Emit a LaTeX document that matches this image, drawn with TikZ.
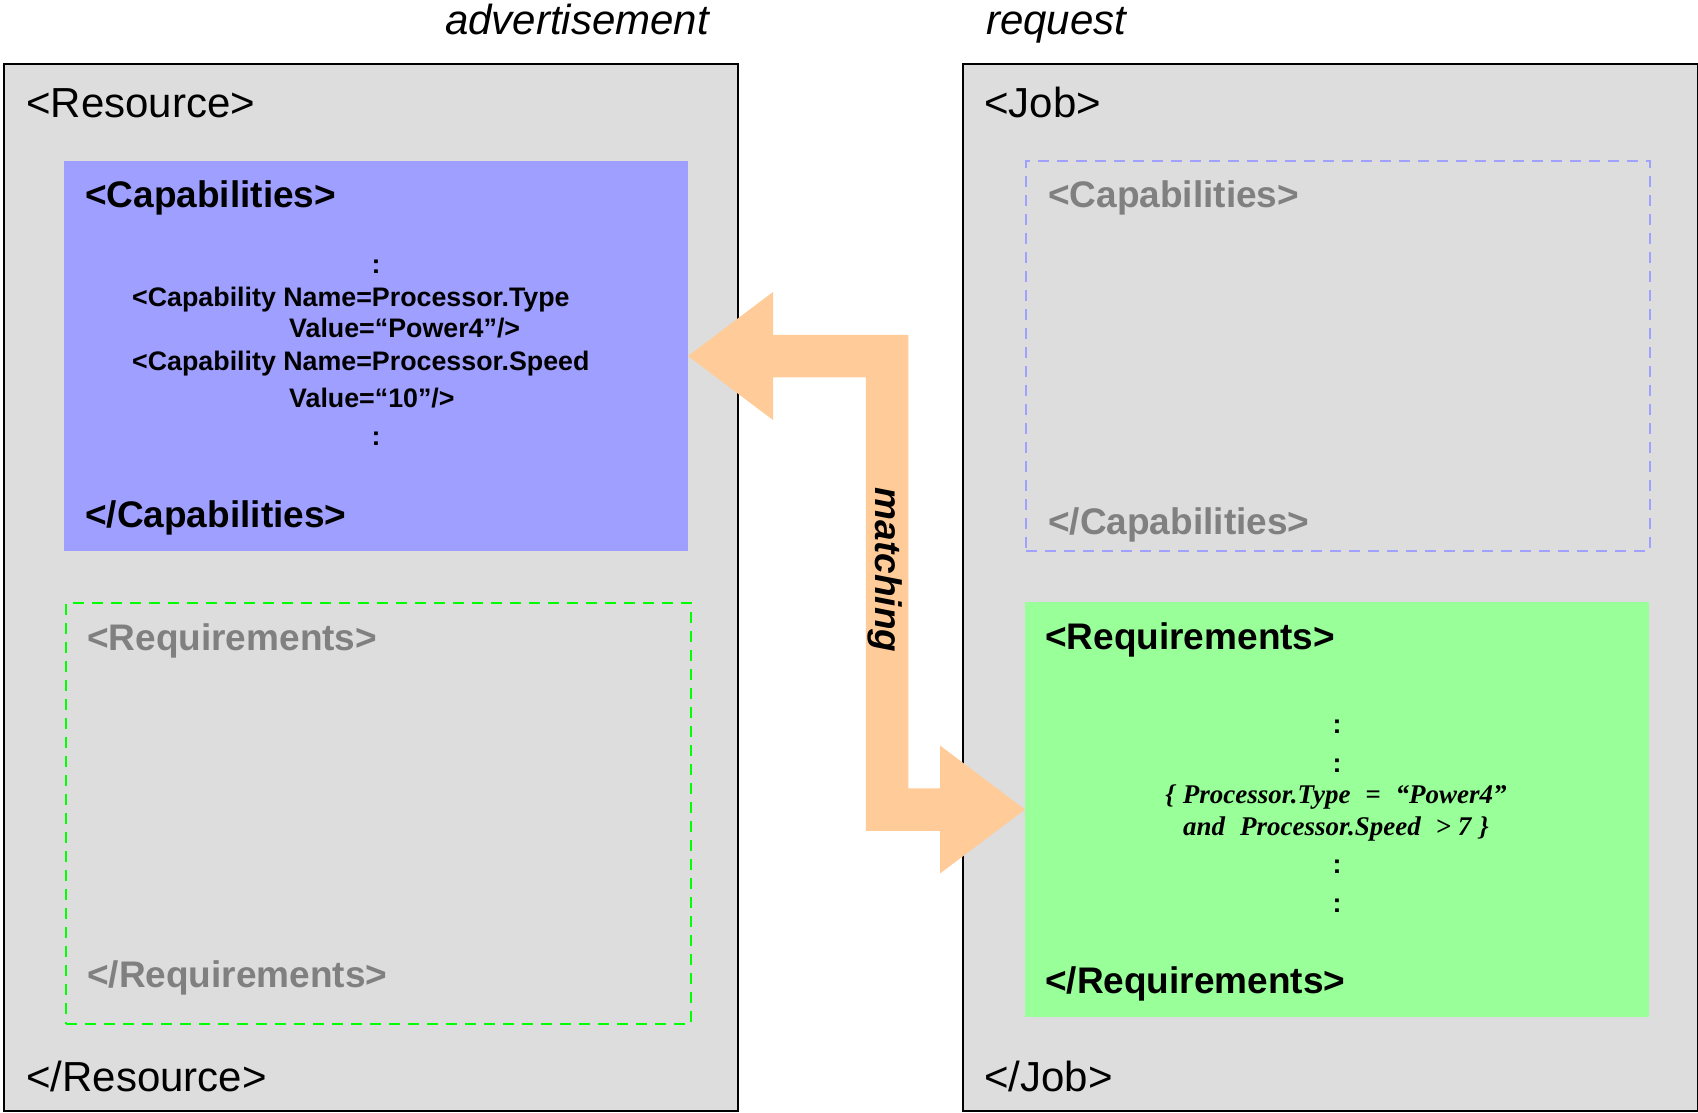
\documentclass[tikz,border=0pt]{standalone}
\usepackage{fontspec}
\setmainfont{Liberation Sans}
\newfontfamily\serifbi{Liberation Serif}
\usetikzlibrary{calc}

\definecolor{panelgray}{HTML}{DDDDDD}
\definecolor{capblue}{HTML}{9F9FFF}
\definecolor{capline}{HTML}{A0A0FF}
\definecolor{reqfill}{HTML}{99FF99}
\definecolor{reqline}{HTML}{00FF00}
\definecolor{ghostgray}{HTML}{808080}
\definecolor{flowfill}{HTML}{FFCC99}

\begin{document}
\begin{tikzpicture}[x=1pt,y=-1pt,
  panel/.style={rectangle, draw=black, line width=1.8pt, fill=panelgray,
    inner sep=0pt, outer sep=0pt, anchor=north west},
  solidbox/.style={rectangle, inner sep=0pt, outer sep=0pt, anchor=north west},
  ghostbox/.style={rectangle, line width=1.6pt, dash pattern=on 11pt off 8pt,
    inner sep=0pt, outer sep=0pt, anchor=north west},
  tag/.style={inner sep=0pt, anchor=base west, font=\fontsize{42pt}{50pt}\selectfont},
  secttag/.style={inner sep=0pt, anchor=base west, font=\fontsize{37pt}{44pt}\selectfont\bfseries},
  ghost/.style={secttag, text=ghostgray},
  entry/.style={inner sep=0pt, anchor=base west, font=\fontsize{26.8pt}{32pt}\selectfont\bfseries},
  dots/.style={inner sep=0pt, anchor=base, font=\fontsize{26.8pt}{32pt}\selectfont\bfseries},
  cond/.style={inner sep=0pt, anchor=base, font=\fontsize{27pt}{32pt}\selectfont\serifbi\bfseries\itshape},
  heading/.style={inner sep=0pt, anchor=base west, font=\fontsize{42pt}{50pt}\selectfont\itshape},
  flow/.style={fill=flowfill}
]
\fill[white] (0,0) rectangle (1698,1112);
\useasboundingbox (0,0) rectangle (1698,1112);

% headings
\node[heading] (adv) at (445,34) {advertisement};
\node[heading] (rq) at (986,34) {request};

% outer panels
\node[panel, minimum width=734pt, minimum height=1047pt] (res) at (4,64) {};
\node[panel, minimum width=735pt, minimum height=1047pt] (job) at (963,64) {};

% inner sections
\node[solidbox, fill=capblue, minimum width=624pt, minimum height=390pt] (capA) at (64,161) {};
\node[ghostbox, draw=reqline, minimum width=625pt, minimum height=421pt] (reqA) at (66,603) {};
\node[ghostbox, draw=capline, minimum width=624pt, minimum height=390pt] (capB) at (1026,161) {};
\node[solidbox, fill=reqfill, minimum width=624pt, minimum height=415pt] (reqB) at (1025,602) {};

% outer tags
\node[tag] (resOpen) at (26,117) {<Resource>};
\node[tag] (resClose) at (26,1091) {</Resource>};
\node[tag] (jobOpen) at (984,117) {<Job>};
\node[tag] (jobClose) at (984,1091) {</Job>};

% resource capabilities
\node[secttag] (capAopen) at (85,207) {<Capabilities>};
\node[secttag] (capAclose) at (85,527) {</Capabilities>};
\node[dots] (capAd1) at (376,273) {:};
\node[entry] (capAe1) at (132,306) {<Capability Name=Processor.Type};
\node[entry] (capAe2) at (289,337) {Value=“Power4”/>};
\node[entry] (capAe3) at (132,370) {<Capability Name=Processor.Speed};
\node[entry] (capAe4) at (289,407) {Value=“10”/>};
\node[dots] (capAd2) at (376,445) {:};

% resource requirements (empty)
\node[ghost] (reqAopen) at (87,650) {<Requirements>};
\node[ghost] (reqAclose) at (87,987) {</Requirements>};

% job capabilities (empty)
\node[ghost] (capBopen) at (1048,207) {<Capabilities>};
\node[ghost] (capBclose) at (1048,534) {</Capabilities>};

% job requirements
\node[secttag] (reqBopen) at (1045,649) {<Requirements>};
\node[secttag] (reqBclose) at (1045,993) {</Requirements>};
\node[dots] (reqBd1) at (1337,733) {:};
\node[dots] (reqBd2) at (1337,772) {:};
\node[cond] (reqBc1) at (1336,803) {\{\hspace{0.3em}Processor.Type\hspace{0.55em}=\hspace{0.55em}“Power4”};
\node[cond] (reqBc2) at (1336,835) {and\hspace{0.55em}Processor.Speed\hspace{0.55em}>\hspace{0.25em}7\hspace{0.3em}\}};
\node[dots] (reqBd3) at (1337,873) {:};
\node[dots] (reqBd4) at (1337,912) {:};

% matching arrow between the two sections
\coordinate (sx) at (887,0);
\fill[flow] let \p1=(capA.east), \p2=(reqB.west), \p3=(sx) in
  (\p1) -- (\x1+85pt,\y1+64pt) -- (\x1+85pt,\y1+21.25pt)
  -- (\x3+21.25pt,\y1+21.25pt) -- (\x3+21.25pt,\y2+21.25pt)
  -- (\x2-85pt,\y2+21.25pt) -- (\x2-85pt,\y2+64pt) -- (\p2)
  -- (\x2-85pt,\y2-64pt) -- (\x2-85pt,\y2-21.25pt)
  -- (\x3-21.25pt,\y2-21.25pt) -- (\x3-21.25pt,\y1-21.25pt)
  -- (\x1+85pt,\y1-21.25pt) -- (\x1+85pt,\y1-64pt) -- cycle;
\node[inner sep=0pt, rotate=-90, font=\fontsize{37pt}{44pt}\selectfont\bfseries\itshape]
  (lbl) at (885,570) {matching};
\end{tikzpicture}
\end{document}
